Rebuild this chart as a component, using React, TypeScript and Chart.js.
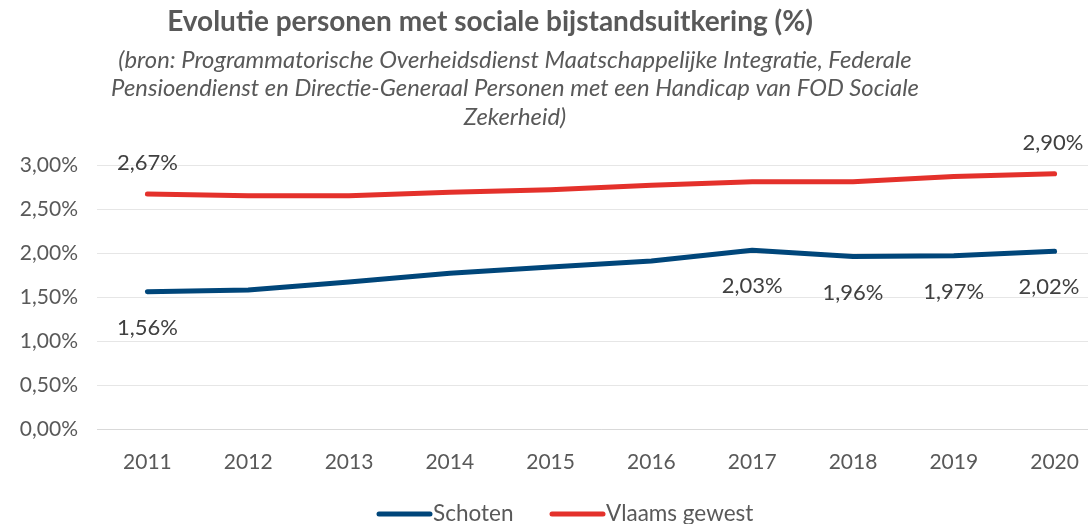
import React, { useEffect, useRef } from "react";
import { Chart, registerables } from "chart.js";

Chart.register(...registerables);

const years = ["2011", "2012", "2013", "2014", "2015", "2016", "2017", "2018", "2019", "2020"];
const schoten = [1.56, 1.58, 1.67, 1.77, 1.84, 1.91, 2.03, 1.96, 1.97, 2.02];
const vlaamsGewest = [2.67, 2.65, 2.65, 2.69, 2.72, 2.77, 2.81, 2.81, 2.87, 2.9];
const schotenLabelIdx = [0, 6, 7, 8, 9];
const vlaamsLabelIdx = [0, 9];
const yTicks = [0, 0.5, 1, 1.5, 2, 2.5, 3];

const title = "Evolutie personen met sociale bijstandsuitkering (%)";
const subtitleLines = [
  "(bron: Programmatorische Overheidsdienst Maatschappelijke Integratie, Federale",
  "Pensioendienst en Directie-Generaal Personen met een Handicap van FOD Sociale",
  "Zekerheid)",
];
const seriesNames = ["Schoten", "Vlaams gewest"];

const BLUE = "#00467A";
const RED = "#E4312B";
const TXT = "#595959";
const FONT = "Lato, 'Open Sans', sans-serif";

const fmt = (v: number) => v.toFixed(2).replace(".", ",") + "%";

const decorPlugin = {
  id: "decor",
  afterDatasetsDraw(chart: any) {
    const ctx = chart.ctx;
    ctx.save();
    ctx.font = `22px ${FONT}`;
    ctx.fillStyle = "#404040";
    ctx.textAlign = "center";
    ctx.textBaseline = "middle";
    const m0 = chart.getDatasetMeta(0);
    schotenLabelIdx.forEach((i) => {
      const p = m0.data[i];
      const x = Math.min(p.x, 1049);
      ctx.fillText(fmt(schoten[i]), x, p.y + 36);
    });
    const m1 = chart.getDatasetMeta(1);
    vlaamsLabelIdx.forEach((i) => {
      const p = m1.data[i];
      const x = Math.min(p.x, 1053);
      ctx.fillText(fmt(vlaamsGewest[i]), x, p.y - 31);
    });
    ctx.restore();
  },
  afterDraw(chart: any) {
    const ctx = chart.ctx;
    ctx.save();
    ctx.fillStyle = TXT;
    ctx.textAlign = "center";
    ctx.textBaseline = "middle";
    ctx.font = `bold 28px ${FONT}`;
    ctx.fillText(title, 490, 22);
    ctx.font = `italic 23.8px ${FONT}`;
    subtitleLines.forEach((l, i) => ctx.fillText(l, 515, 60 + i * 28.5));
    const items = [
      { x: 377, color: BLUE, name: seriesNames[0] },
      { x: 550, color: RED, name: seriesNames[1] },
    ];
    ctx.textAlign = "left";
    ctx.font = `22.5px ${FONT}`;
    items.forEach((it) => {
      ctx.strokeStyle = it.color;
      ctx.lineWidth = 5;
      ctx.lineCap = "round";
      ctx.beginPath();
      ctx.moveTo(it.x + 2, 514);
      ctx.lineTo(it.x + 53, 514);
      ctx.stroke();
      ctx.fillStyle = TXT;
      ctx.fillText(it.name, it.x + 56, 514);
    });
    ctx.restore();
  },
};

export default function App() {
  const ref = useRef<HTMLCanvasElement>(null);
  useEffect(() => {
    if (!ref.current) return;
    const chart = new Chart(ref.current, {
      type: "line",
      data: {
        labels: years,
        datasets: [
          {
            label: seriesNames[0],
            data: schoten,
            borderColor: BLUE,
            backgroundColor: BLUE,
            borderWidth: 5,
            pointRadius: 0,
            tension: 0,
            borderJoinStyle: "round",
            borderCapStyle: "round",
          },
          {
            label: seriesNames[1],
            data: vlaamsGewest,
            borderColor: RED,
            backgroundColor: RED,
            borderWidth: 5,
            pointRadius: 0,
            tension: 0,
            borderJoinStyle: "round",
            borderCapStyle: "round",
          },
        ],
      },
      options: {
        responsive: false,
        animation: false,
        devicePixelRatio: 1,
        layout: { padding: { top: 165, left: 0, right: 0, bottom: 0 } },
        plugins: {
          legend: { display: false },
          title: { display: false },
          tooltip: { enabled: false },
        },
        scales: {
          x: {
            offset: true,
            grid: { display: false, drawTicks: false },
            border: { display: true, color: "#d9d9d9", width: 1 },
            ticks: { color: TXT, font: { family: FONT, size: 21 }, padding: 21 },
            afterFit: (s: any) => {
              s.height = 95;
            },
          },
          y: {
            min: 0,
            max: 3,
            afterBuildTicks: (s: any) => {
              s.ticks = yTicks.map((v) => ({ value: v }));
            },
            grid: { color: "#e6e6e6", lineWidth: 1, drawTicks: false },
            border: { display: false },
            ticks: {
              color: TXT,
              font: { family: FONT, size: 21 },
              padding: 19,
              callback: (v: any) => fmt(Number(v)),
            },
            afterFit: (s: any) => {
              s.width = 97;
            },
          },
        },
      },
      plugins: [decorPlugin],
    } as any);
    return () => chart.destroy();
  }, []);
  return (
    <div
      style={{
        position: "fixed",
        left: 0,
        top: 0,
        width: 1088,
        height: 524,
        overflow: "hidden",
        background: "#fff",
      }}
    >
      <canvas ref={ref} width={1105} height={524} style={{ width: 1105, height: 524, display: "block" }} />
    </div>
  );
}
